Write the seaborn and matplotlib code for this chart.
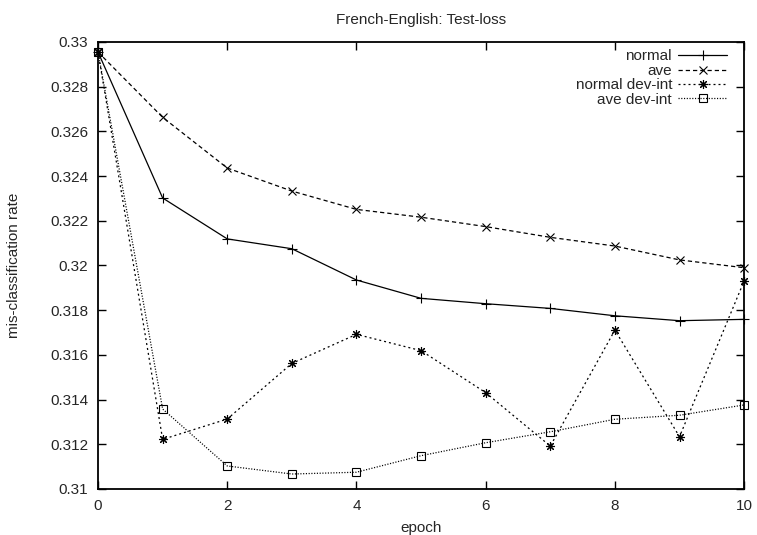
import matplotlib
matplotlib.use("Agg")
import matplotlib.pyplot as plt
from matplotlib.ticker import FormatStrFormatter, MultipleLocator
import pandas as pd
import seaborn as sns

# Mis-classification rate on the test set, per training epoch
epochs = [0, 1, 2, 3, 4, 5, 6, 7, 8, 9, 10]
normal = [0.32955, 0.32302, 0.32119, 0.32075, 0.31935, 0.31853, 0.31829, 0.31808, 0.31775, 0.31753, 0.31759]
ave = [0.32955, 0.32663, 0.32436, 0.32333, 0.32251, 0.32216, 0.32174, 0.32126, 0.32087, 0.32025, 0.31990]
normal_dev_int = [0.32955, 0.31222, 0.31313, 0.31562, 0.31692, 0.31619, 0.31431, 0.31192, 0.31711, 0.31234, 0.31931]
ave_dev_int = [0.32955, 0.31358, 0.31103, 0.31067, 0.31075, 0.31149, 0.31207, 0.31256, 0.31312, 0.31330, 0.31376]

series_names = ["normal", "ave", "normal dev-int", "ave dev-int"]
series_values = [normal, ave, normal_dev_int, ave_dev_int]

sns.set_style("ticks")
plt.rcParams["font.family"] = ["Liberation Sans", "DejaVu Sans"]
plt.rcParams["font.size"] = 11
plt.rcParams["xtick.direction"] = "in"
plt.rcParams["ytick.direction"] = "in"

fig = plt.figure(figsize=(7.57, 5.35), dpi=100)
ax = fig.add_axes([0.1295, 0.086, 0.8535, 0.8355])

line_styles = {
    "normal": dict(linestyle="-", marker="+", markersize=7),
    "ave": dict(linestyle=(0, (3.4, 2.4)), marker="x", markersize=6),
    "normal dev-int": dict(linestyle=(0, (1.6, 2.4)), marker=(8, 2, 0), markersize=6.5),
    "ave dev-int": dict(linestyle=(0, (0.9, 1.3)), marker="s", markersize=5.5),
}

for name, vals in zip(series_names, series_values):
    df = pd.DataFrame({"epoch": epochs, "rate": vals})
    sns.lineplot(data=df, x="epoch", y="rate", ax=ax, color="black",
                 linewidth=0.9, mec="black", mfc="none", mew=0.8,
                 clip_on=False, label=name, **line_styles[name])

ax.set_xlim(0, 10)
ax.set_ylim(0.31, 0.33)
ax.xaxis.set_major_locator(MultipleLocator(2))
ax.yaxis.set_major_locator(MultipleLocator(0.002))
ax.yaxis.set_major_formatter(FormatStrFormatter("%g"))
ax.tick_params(axis="both", which="major", length=6, width=1.0,
               top=True, right=True, labelsize=11, pad=7, color="black")
for sp in ax.spines.values():
    sp.set_visible(True)
    sp.set_linewidth(1.3)
    sp.set_color("black")

ax.set_xlabel("epoch", fontsize=11, labelpad=6)
ax.set_ylabel("mis-classification rate", fontsize=11, labelpad=21)
ax.set_title("French-English: Test-loss", fontsize=11, pad=13)

# gnuplot-style key: labels right-aligned, samples on the right
handles, labels = ax.get_legend_handles_labels()
ax.legend(handles, labels, loc="upper right", bbox_to_anchor=(0.983, 0.997),
          frameon=False, markerfirst=False, handlelength=3.2,
          handletextpad=0.4, labelspacing=0.03, borderaxespad=0.0,
          fontsize=11)

fig.savefig("out.png", dpi=100)
